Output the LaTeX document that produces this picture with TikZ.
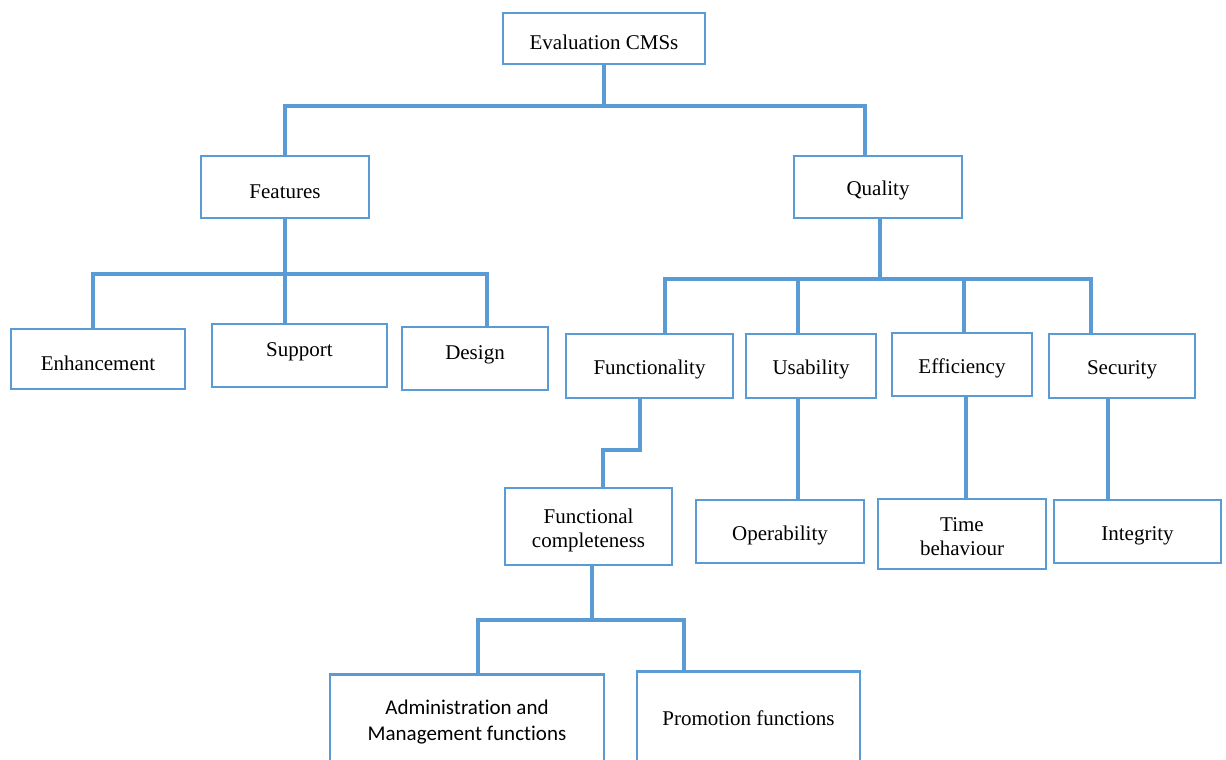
\documentclass[tikz,border=0pt]{standalone}
\usepackage{fontspec}
\setmainfont{Liberation Serif}
\newfontfamily\calfont[Ligatures=NoCommon]{Carlito}
\definecolor{bl}{HTML}{5B9BD5}
\tikzset{
  box/.style={draw=bl,line width=2.5pt,inner sep=0pt,align=center,text height=22.3pt,font=\fontsize{21}{24}\selectfont},
  txt/.style={inner sep=0pt,align=center,text height=22.3pt,font=\fontsize{21}{24}\selectfont},
  conn/.style={draw=bl,line width=4pt}
}
\begin{document}
\begin{tikzpicture}[x=1pt,y=-1pt]
\useasboundingbox (0,0) rectangle (1226,760);
\clip (0,0) rectangle (1226,760);
\fill[white] (0,0) rectangle (1226,760);
% boxes
\node[box,minimum width=202pt,minimum height=51pt] (ev) at (604,38.5) {Evaluation CMSs};
\node[box,minimum width=168pt,minimum height=62pt] (feat) at (285,187) {Features};
\node[box,minimum width=168pt,minimum height=62pt] (qual) at (878,187) {Quality};
\node[box,minimum width=174pt,minimum height=60pt] (enh) at (98,359) {Enhancement};
\node[box,minimum width=175pt,minimum height=63pt] (sup) at (299.5,355.5) {};
\node[txt] (supt) at (299.5,348) {Support};
\node[box,minimum width=146pt,minimum height=63pt] (des) at (475,358.5) {};
\node[txt] (dest) at (475,351) {Design};
\node[box,minimum width=167pt,minimum height=64pt] (func) at (649.5,366) {Functionality};
\node[box,minimum width=130pt,minimum height=64pt] (usab) at (811,366) {Usability};
\node[box,minimum width=140pt,minimum height=63pt] (eff) at (962,364.5) {Efficiency};
\node[box,minimum width=146pt,minimum height=64pt] (sec) at (1122,366) {Security};
\node[box,minimum width=167pt,minimum height=77pt] (fc) at (588.5,526.5) {};
\node[txt] (fct) at (588.5,538.5) {Functional\\completeness};
\node[box,minimum width=168pt,minimum height=63pt] (oper) at (780,531.5) {Operability};
\node[box,minimum width=168pt,minimum height=70pt] (time) at (962,534) {};
\node[txt] (timet) at (962,544) {Time\\behaviour};
\node[box,minimum width=167pt,minimum height=63pt] (integ) at (1137.5,531.5) {Integrity};
\node[box,anchor=north,minimum width=274pt,minimum height=120pt] (admin) at (467,673) {};
\node[txt,font=\calfont\fontsize{21}{26}\selectfont] (admint) at (467,731) {Administration and\\Management functions};
\node[box,anchor=north,minimum width=223pt,minimum height=120pt] (promo) at (748.5,670) {};
\node[txt] (promot) at (748.5,714) {Promotion functions};
% connectors
\coordinate (j0) at (604,106);
\draw[conn] (ev.south) -- (j0);
\draw[conn] (feat.north) -- (feat.north |- j0) -- ([xshift=-13pt]qual.north |- j0) -- ([xshift=-13pt]qual.north);
\coordinate (j1) at (285,274);
\draw[conn] (feat.south) -- (j1);
\draw[conn] ([xshift=-5pt]enh.north) -- ([xshift=-5pt]enh.north |- j1) -- ([xshift=12pt]des.north |- j1) -- ([xshift=12pt]des.north);
\draw[conn] (j1) -- (j1 |- sup.north);
\coordinate (j2) at (880,279);
\draw[conn] ([xshift=2pt]qual.south) -- (j2);
\draw[conn] ([xshift=15.5pt]func.north) -- ([xshift=15.5pt]func.north |- j2) -- ([xshift=-31pt]sec.north |- j2) -- ([xshift=-31pt]sec.north);
\draw[conn] ([xshift=-13pt]usab.north) -- ([xshift=-13pt]usab.north |- j2);
\draw[conn] ([xshift=2pt]eff.north) -- ([xshift=2pt]eff.north |- j2);
\coordinate (j3) at (640,450);
\draw[conn] ([xshift=-9.5pt]func.south) -- (j3) -- ([xshift=14.5pt]fc.north |- j3) -- ([xshift=14.5pt]fc.north);
\draw[conn] ([xshift=-13pt]usab.south) -- ([xshift=-13pt]usab.south |- oper.north);
\draw[conn] ([xshift=4pt]eff.south) -- ([xshift=4pt]eff.south |- time.north);
\draw[conn] ([xshift=-14pt]sec.south) -- ([xshift=-14pt]sec.south |- integ.north);
\coordinate (j4) at (592,620);
\draw[conn] ([xshift=3.5pt]fc.south) -- (j4);
\draw[conn] ([xshift=11pt]admin.north) -- ([xshift=11pt]admin.north |- j4) -- ([xshift=-64.5pt]promo.north |- j4) -- ([xshift=-64.5pt]promo.north);
\end{tikzpicture}
\end{document}
